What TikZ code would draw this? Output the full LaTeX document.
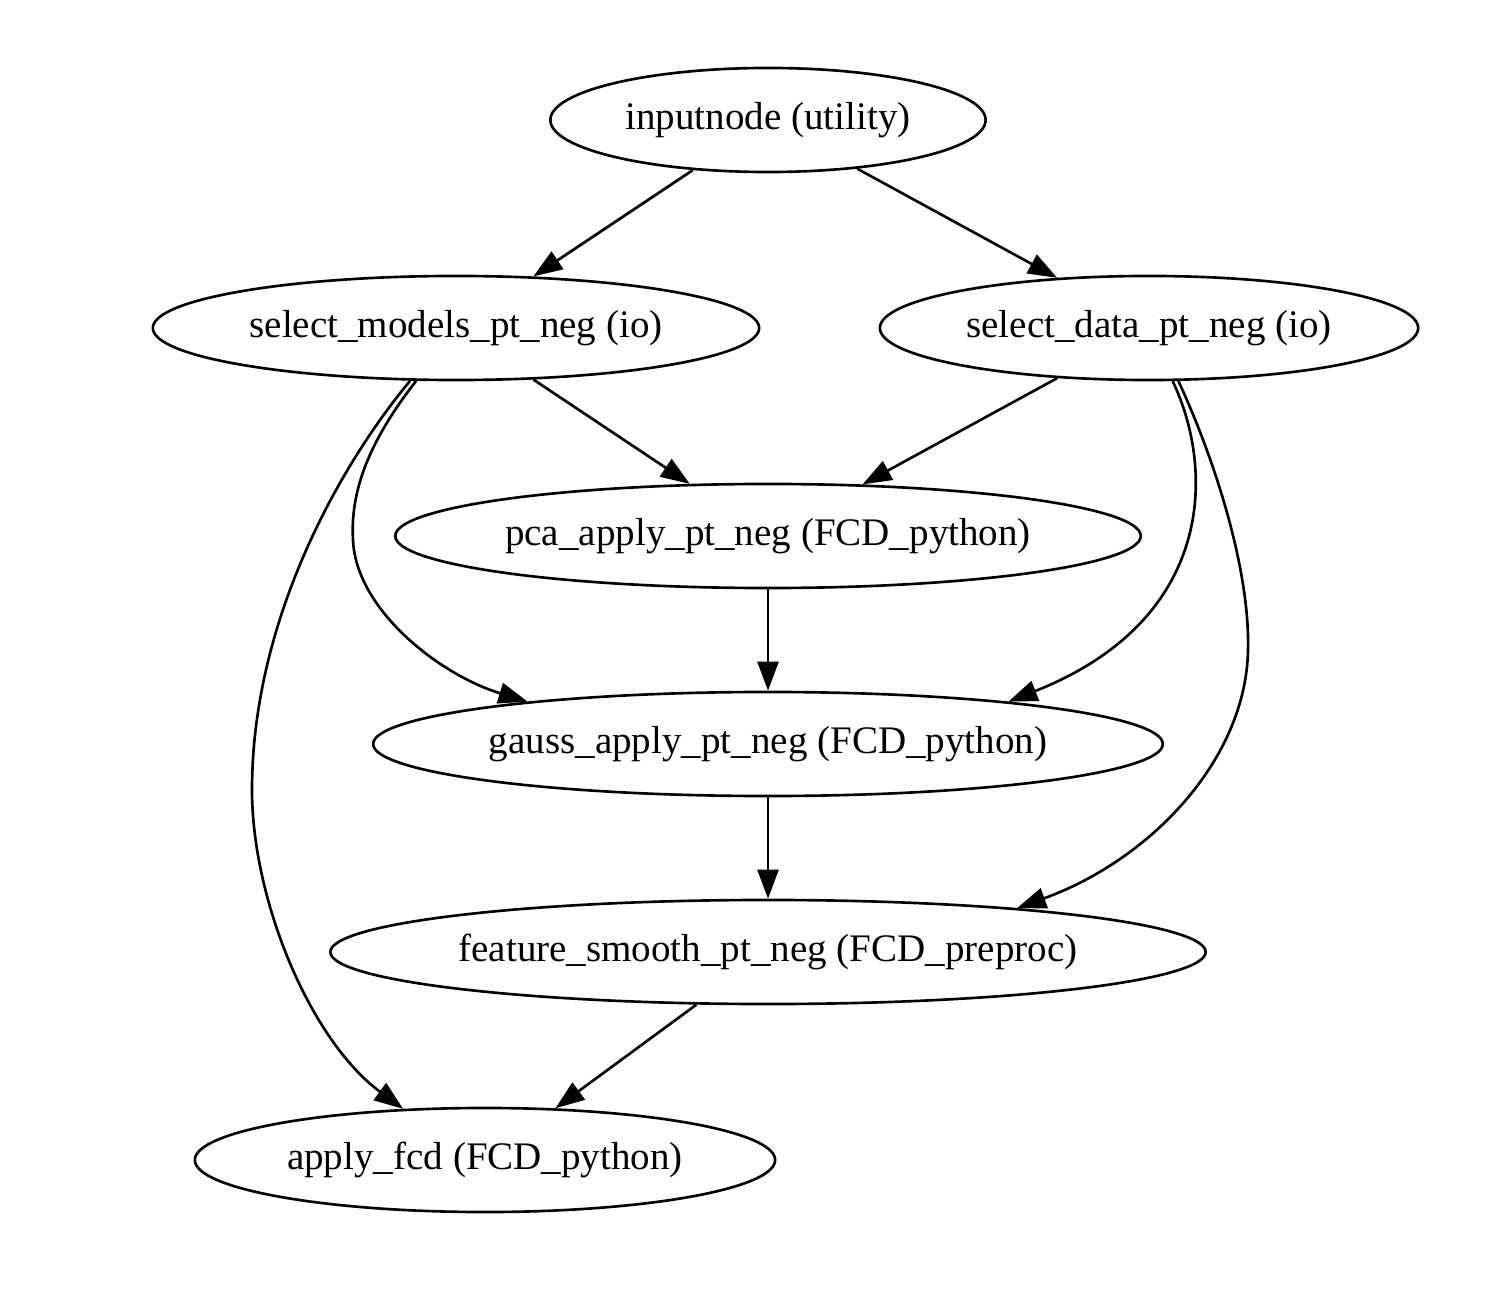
\documentclass[tikz,border=0pt]{standalone}
\usepackage{fontspec}
\setmainfont{Liberation Serif}
\usetikzlibrary{shapes.geometric,arrows.meta}
\begin{document}
\begin{tikzpicture}[x=0.01cm,y=-0.01cm,
  gvnode/.style={draw, ellipse, line width=0.75pt, inner sep=0pt, minimum height=1.04cm, font=\fontsize{11.1}{13}\selectfont},
  gvedge/.style={draw, line width=0.75pt, -{Triangle[length=0.29cm,width=0.21cm]}}]
\path[use as bounding box, fill=white] (0,0) rectangle (1498,1304);
\node[gvnode, minimum width=4.35cm] (in) at (768,120) {inputnode (utility)};
\node[gvnode, minimum width=6.06cm] (sm) at (456,328) {select\_models\_pt\_neg (io)};
\node[gvnode, minimum width=5.38cm] (sd) at (1149,328) {select\_data\_pt\_neg (io)};
\node[gvnode, minimum width=7.45cm] (pca) at (768,536) {pca\_apply\_pt\_neg (FCD\_python)};
\node[gvnode, minimum width=7.88cm] (gauss) at (768,744) {gauss\_apply\_pt\_neg (FCD\_python)};
\node[gvnode, minimum width=8.71cm] (feat) at (768,952) {feature\_smooth\_pt\_neg (FCD\_preproc)};
\node[gvnode, minimum width=5.80cm] (apply) at (485,1160) {apply\_fcd (FCD\_python)};

\draw[gvedge] (in) -- (sm);
\draw[gvedge] (in) -- (sd);
\draw[gvedge] (sm) -- (pca);
\draw[gvedge] (sd) -- (pca);
\draw[gvedge] (pca) -- (gauss);
\draw[gvedge] (gauss) -- (feat);
\draw[gvedge] (feat) -- (apply);

\draw[gvedge] (sm.233) .. controls (370,440) and (350,490) .. (353,540)
  .. controls (356,610) and (440,675) .. (gauss.170);
\draw[gvedge] (sm.229) .. controls (340,465) and (252,620) .. (252,790)
  .. controls (252,900) and (310,1040) .. (apply.148);
\draw[gvedge] (sd.-66) .. controls (1215,470) and (1215,620) .. (gauss.10);
\draw[gvedge] (sd.-61) .. controls (1215,460) and (1250,570) .. (1248,650)
  .. controls (1246,760) and (1150,860) .. (feat.10);
\end{tikzpicture}
\end{document}
